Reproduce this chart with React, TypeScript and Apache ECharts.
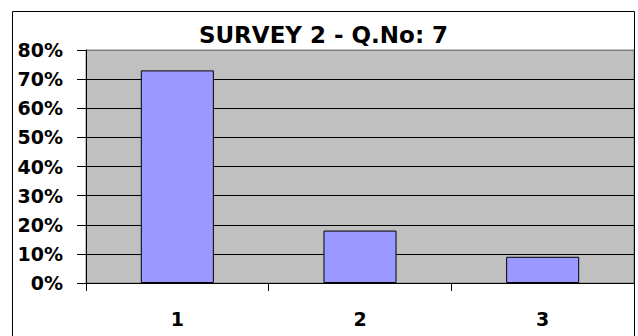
import React, { useEffect, useRef } from "react";
import * as echarts from "echarts";

const categories = ["1", "2", "3"];
const values = [73, 18, 9];
const yTicks = [0, 10, 20, 30, 40, 50, 60, 70, 80];
const titleText = "SURVEY 2 - Q.No: 7";

export default function App() {
  const ref = useRef<HTMLDivElement>(null);
  useEffect(() => {
    if (!ref.current) return;
    const chart = echarts.init(ref.current, null, { renderer: "svg" });
    const font = "DejaVu Sans";
    chart.setOption({
      animation: false,
      backgroundColor: "#ffffff",
      graphic: [
        {
          type: "rect",
          shape: { x: 12.5, y: 11.5, width: 622, height: 400 },
          style: { fill: "none", stroke: "#000", lineWidth: 1 },
          z: 100,
        },
        {
          type: "text",
          x: 323.5,
          y: 35,
          style: {
            text: titleText,
            align: "center",
            verticalAlign: "middle",
            fontFamily: font,
            fontWeight: "bold",
            fontSize: 23,
            fill: "#000",
          },
        },
      ],
      grid: {
        left: 86,
        right: 4,
        top: 50,
        bottom: 53,
        show: true,
        backgroundColor: "#C0C0C0",
        borderColor: "#808080",
        borderWidth: 1,
      },
      xAxis: {
        type: "category",
        data: categories,
        axisLine: { show: true, lineStyle: { color: "#000", width: 1 } },
        axisTick: { show: true, length: 8, lineStyle: { color: "#000" } },
        axisLabel: {
          margin: 26,
          fontFamily: font,
          fontWeight: "bold",
          fontSize: 19,
          color: "#000",
        },
      },
      yAxis: {
        type: "value",
        min: yTicks[0],
        max: yTicks[yTicks.length - 1],
        interval: 10,
        axisLine: { show: true, lineStyle: { color: "#000", width: 1 } },
        axisTick: { show: true, length: 9, lineStyle: { color: "#000" } },
        splitLine: {
          show: true,
          lineStyle: {
            color: ["#000", "#000", "#000", "#000", "#000", "#000", "#000", "#000", "#808080"],
            width: 1,
          },
        },
        axisLabel: {
          margin: 23,
          formatter: "{value}%",
          fontFamily: font,
          fontWeight: "bold",
          fontSize: 19,
          color: "#000",
        },
      },
      series: [
        {
          type: "bar",
          data: values,
          barCategoryGap: "60%",
          itemStyle: { color: "#9999FF", borderColor: "#000", borderWidth: 1 },
        },
      ],
    });
    return () => chart.dispose();
  }, []);
  return (
    <div
      ref={ref}
      style={{ position: "absolute", left: 0, top: 0, width: 638, height: 336 }}
    />
  );
}
